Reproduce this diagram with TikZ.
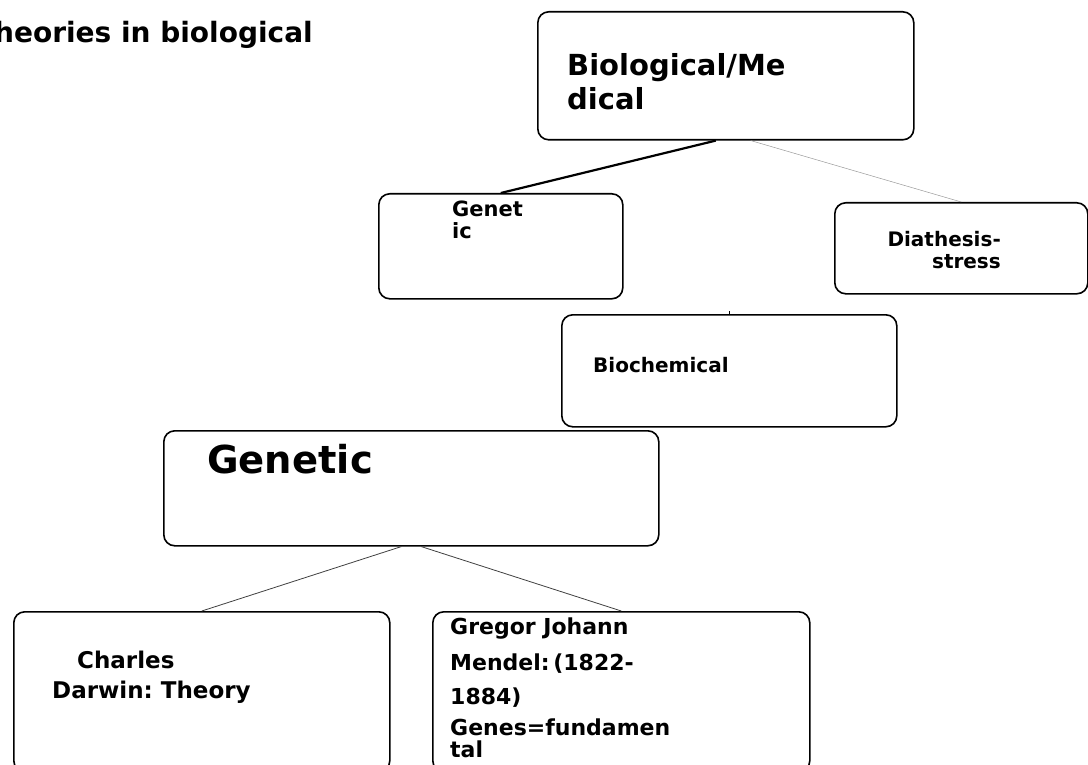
\documentclass[tikz,border=0pt]{standalone}
\usepackage{fontspec}
\setmainfont{DejaVu Sans}
\frenchspacing
\begin{document}
\begin{tikzpicture}[x=1pt,y=-1pt,
  box/.style={draw,line width=1.6pt,rounded corners=11pt,anchor=north west,inner sep=0pt},
  txt/.style={anchor=base west,inner sep=0pt,align=left},
  link/.style={line width=0.8pt,black!75}]
\useasboundingbox (0,0) rectangle (1088,765);

\node[txt,anchor=base east,font=\bfseries\fontsize{28}{34}\selectfont] (title) at (313,43) {Theories in biological};

\node[box,minimum width=376,minimum height=128] (bio) at (537,11) {};
\node[txt,font=\bfseries\fontsize{29}{34}\selectfont] (biotxt) at (567,110) {Biological/Me\\dical};

\node[box,minimum width=244,minimum height=105] (genet) at (378,193) {};
\node[txt,font=\bfseries\fontsize{21}{23}\selectfont] (genettxt) at (452,239) {Genet\\ic};

\node[box,minimum width=253,minimum height=91] (diat) at (834,202) {};
\node[txt,anchor=base east,align=right,font=\bfseries\fontsize{20}{22}\selectfont] (diattxt) at (1001,269) {Diathesis-\\stress};

\node[box,minimum width=335,minimum height=112] (bchem) at (561,314) {};
\node[txt,font=\bfseries\fontsize{20}{22}\selectfont] (bchemtxt) at (593,372) {Biochemical};

\node[box,minimum width=495,minimum height=115] (gen) at (163,430) {};
\node[txt,font=\bfseries\fontsize{38.5}{44}\selectfont] (gentxt) at (207,473) {Genetic};

\node[box,minimum width=376,minimum height=160] (darwin) at (13,611) {};
\node[txt,font=\bfseries\fontsize{23}{30}\selectfont] (darwintxt) at (52,698) {\hspace{25pt}Charles\\Darwin: Theory};

\node[box,minimum width=377,minimum height=160] (mendel) at (432,611) {};
\node[txt,font=\bfseries\fontsize{22}{22}\selectfont] (mendeltxt) at (450,757) {Gregor Johann\\[14pt]Mendel:\,(1822-\\[12pt]1884)\\[9pt]Genes=fundamen\\tal};

\draw[line width=2.2pt] ([xshift=-10]bio.south) -- (genet.north);
\draw[line width=0.5pt,black!40] ([xshift=25]bio.south) -- (diat.north);
\draw[line width=0.8pt] (bchem.north) -- ++(0,-3);
\draw[link] ([xshift=-10]gen.south) -- (darwin.north);
\draw[link] ([xshift=10]gen.south) -- (mendel.north);
\end{tikzpicture}
\end{document}
